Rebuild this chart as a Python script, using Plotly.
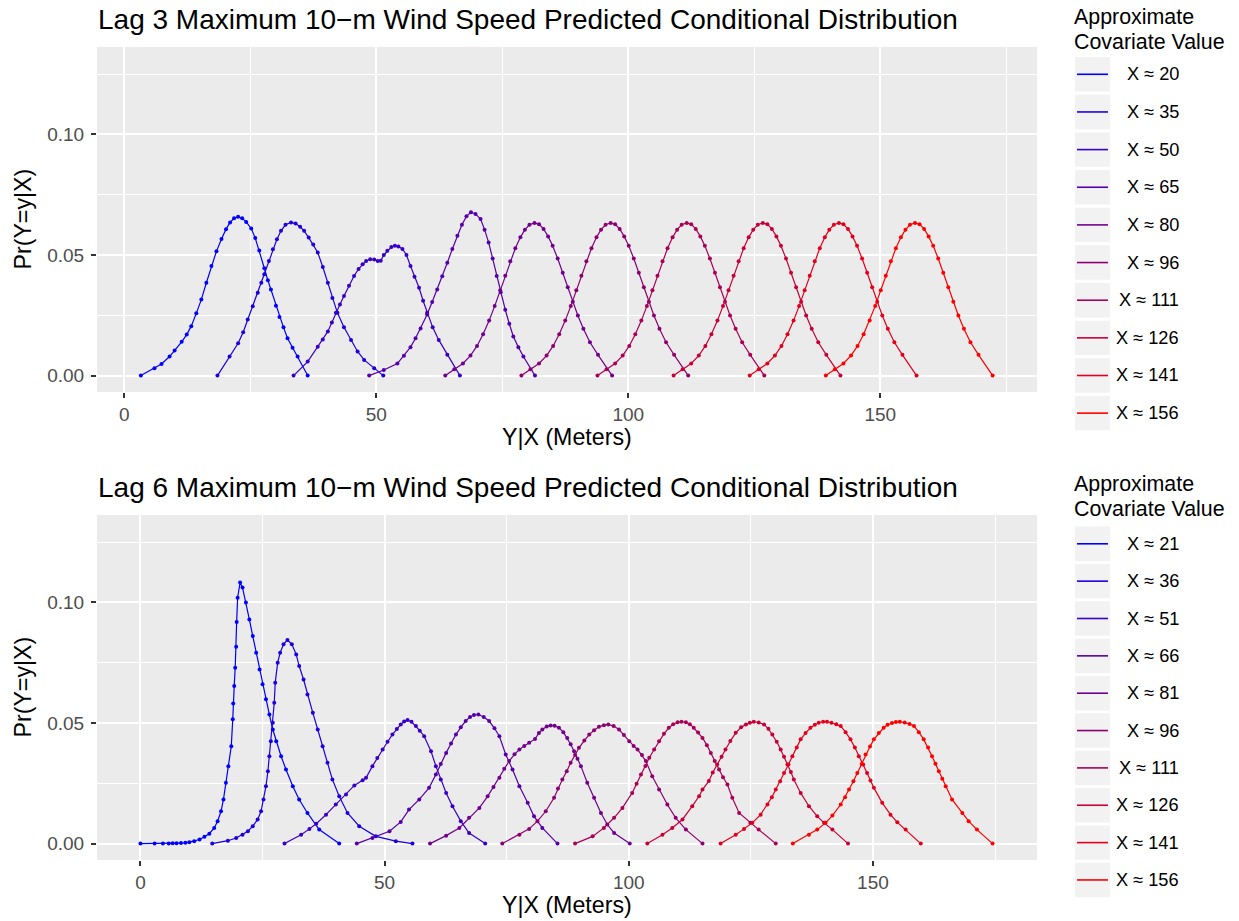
import plotly.graph_objects as go

W, H = 1239, 921
FONT = "Liberation Sans, Arial, Helvetica, sans-serif"

# ---------------- data ----------------
colors = ["#0000FF", "#1C00E2", "#3800C6", "#5500AA", "#71008D",
          "#8D0071", "#AA0055", "#C60038", "#E2001C", "#FF0000"]

lag3_labels = ["X \u2248 20", "X \u2248 35", "X \u2248 50", "X \u2248 65", "X \u2248 80",
               "X \u2248 96", "X \u2248 111", "X \u2248 126", "X \u2248 141", "X \u2248 156"]
lag6_labels = ["X \u2248 21", "X \u2248 36", "X \u2248 51", "X \u2248 66", "X \u2248 81",
               "X \u2248 96", "X \u2248 111", "X \u2248 126", "X \u2248 141", "X \u2248 156"]

# Lag 3 curves
t20_x = [3.3, 6.0, 7.4, 9.0, 10.0, 11.4, 12.4, 13.3, 14.3, 15.3, 16.3, 17.3, 18.3, 19.3, 20.2, 21.0, 21.8, 22.6,
         23.4, 24.2, 25.2, 26.0, 26.8, 27.8, 28.5, 29.1, 30.1, 30.8, 31.6, 32.4, 33.4, 34.4, 36.4]
t20_y = [0, 0.0030, 0.0048, 0.0079, 0.0104, 0.0140, 0.0170, 0.0205, 0.0258, 0.0315, 0.0385, 0.0454, 0.0515, 0.0566,
         0.0607, 0.0635, 0.0652, 0.0658, 0.0652, 0.0637, 0.0610, 0.0570, 0.0518, 0.0445, 0.0395, 0.0357, 0.0290,
         0.0243, 0.0200, 0.0155, 0.0115, 0.0079, 0]
t35_x = [18.5, 20.9, 22.6, 23.6, 24.5, 25.5, 26.5, 27.2, 27.8, 28.7, 29.5, 30.3, 31.1, 32.0, 33.1, 34.0, 34.9, 35.7,
         36.6, 37.5, 38.4, 39.4, 40.4, 41.3, 42.3, 43.6, 45.0, 46.3, 47.6, 49.6, 51.4]
t35_y = [0, 0.0079, 0.0134, 0.0180, 0.0232, 0.0287, 0.0343, 0.0385, 0.0420, 0.0475, 0.0524, 0.0565, 0.0600, 0.0625,
         0.0635, 0.0630, 0.0617, 0.0600, 0.0572, 0.0543, 0.0510, 0.0450, 0.0385, 0.0322, 0.0260, 0.0200, 0.0148,
         0.0100, 0.0065, 0.0030, 0]
t50_x = [33.6, 36.4, 38.4, 39.4, 40.4, 41.2, 42.0, 42.8, 43.6, 44.6, 45.6, 46.5, 47.3, 48.0, 48.8, 49.6, 50.3, 50.9,
         51.5, 52.2, 53.0, 53.7, 54.4, 55.2, 56.0, 56.8, 57.6, 58.5, 59.3, 60.1, 61.2, 62.4, 64.1, 66.6]
t50_y = [0, 0.0058, 0.0120, 0.0150, 0.0183, 0.0220, 0.0260, 0.0295, 0.0330, 0.0372, 0.0413, 0.0442, 0.0461, 0.0475,
         0.0482, 0.0481, 0.0475, 0.0476, 0.0500, 0.0517, 0.0533, 0.0538, 0.0535, 0.0525, 0.0500, 0.0454, 0.0410,
         0.0364, 0.0310, 0.0260, 0.0200, 0.0148, 0.0086, 0]
t65_x = [48.6, 51.5, 54.2, 55.5, 56.8, 57.8, 58.8, 60.1, 61.1, 62.1, 63.1, 64.1, 65.1, 66.1, 67.0, 67.9, 68.8, 69.7,
         70.7, 71.5, 72.3, 73.1, 73.9, 74.7, 75.6, 76.4, 77.2, 78.2, 79.2, 81.5]
t65_y = [0, 0.0023, 0.0050, 0.0082, 0.0118, 0.0155, 0.0195, 0.0253, 0.0305, 0.0357, 0.0412, 0.0468, 0.0525, 0.0580,
         0.0625, 0.0660, 0.0677, 0.0670, 0.0649, 0.0605, 0.0552, 0.0485, 0.0413, 0.0345, 0.0273, 0.0215, 0.0162,
         0.0118, 0.0079, 0]
t80_x = [63.7, 65.5, 67.2, 68.7, 70.0, 71.2, 72.4, 73.5, 74.6, 75.6, 76.6, 77.6, 78.6, 79.5, 80.4, 81.4, 82.3, 83.2,
         84.1, 85.0, 86.0, 87.0, 88.0, 89.0, 90.0, 91.1, 92.4, 94.0, 96.8]
t80_y = [0, 0.0026, 0.0050, 0.0083, 0.0123, 0.0171, 0.0228, 0.0288, 0.0354, 0.0414, 0.0474, 0.0528, 0.0573, 0.0605,
         0.0625, 0.0633, 0.0627, 0.0608, 0.0577, 0.0538, 0.0485, 0.0426, 0.0366, 0.0306, 0.0249, 0.0194, 0.0138,
         0.0086, 0]
t96_x = [78.8, 80.6, 82.3, 83.8, 85.1, 86.3, 87.5, 88.6, 89.7, 90.7, 91.7, 92.7, 93.7, 94.6, 95.5, 96.5, 97.4, 98.3,
         99.2, 100.1, 101.1, 102.1, 103.1, 104.1, 105.1, 106.2, 107.5, 109.1, 111.9]
t96_y = [0, 0.0026, 0.0050, 0.0083, 0.0123, 0.0171, 0.0228, 0.0288, 0.0354, 0.0414, 0.0474, 0.0528, 0.0573, 0.0605,
         0.0625, 0.0633, 0.0627, 0.0608, 0.0577, 0.0538, 0.0485, 0.0426, 0.0366, 0.0306, 0.0249, 0.0194, 0.0138,
         0.0086, 0]
t111_x = [93.9, 95.7, 97.4, 98.9, 100.2, 101.4, 102.6, 103.7, 104.8, 105.8, 106.8, 107.8, 108.8, 109.7, 110.6, 111.6,
          112.5, 113.4, 114.3, 115.2, 116.2, 117.2, 118.2, 119.2, 120.2, 121.3, 122.6, 124.2, 127.0]
t111_y = [0, 0.0026, 0.0050, 0.0083, 0.0123, 0.0171, 0.0228, 0.0288, 0.0354, 0.0414, 0.0474, 0.0528, 0.0573, 0.0605,
          0.0625, 0.0633, 0.0627, 0.0608, 0.0577, 0.0538, 0.0485, 0.0426, 0.0366, 0.0306, 0.0249, 0.0194, 0.0138,
          0.0086, 0]
t126_x = [109.0, 110.8, 112.5, 114.0, 115.3, 116.5, 117.7, 118.8, 119.9, 120.9, 121.9, 122.9, 123.9, 124.8, 125.7,
          126.7, 127.6, 128.5, 129.4, 130.3, 131.3, 132.3, 133.3, 134.3, 135.3, 136.4, 137.7, 139.3, 142.1]
t126_y = [0, 0.0026, 0.0050, 0.0083, 0.0123, 0.0171, 0.0228, 0.0288, 0.0354, 0.0414, 0.0474, 0.0528, 0.0573, 0.0605,
          0.0625, 0.0633, 0.0627, 0.0608, 0.0577, 0.0538, 0.0485, 0.0426, 0.0366, 0.0306, 0.0249, 0.0194, 0.0138,
          0.0086, 0]
t141_x = [124.1, 125.9, 127.6, 129.1, 130.4, 131.6, 132.8, 133.9, 135.0, 136.0, 137.0, 138.0, 139.0, 139.9, 140.8,
          141.8, 142.7, 143.6, 144.5, 145.4, 146.4, 147.4, 148.4, 149.4, 150.4, 151.5, 152.8, 154.4, 157.2]
t141_y = [0, 0.0026, 0.0050, 0.0083, 0.0123, 0.0171, 0.0228, 0.0288, 0.0354, 0.0414, 0.0474, 0.0528, 0.0573, 0.0605,
          0.0625, 0.0633, 0.0627, 0.0608, 0.0577, 0.0538, 0.0485, 0.0426, 0.0366, 0.0306, 0.0249, 0.0194, 0.0138,
          0.0086, 0]
t156_x = [139.2, 141.0, 142.7, 144.2, 145.5, 146.7, 147.9, 149.0, 150.1, 151.1, 152.1, 153.1, 154.1, 155.0, 155.9,
          156.9, 157.8, 158.7, 159.6, 160.5, 161.5, 162.5, 163.5, 164.5, 165.5, 166.6, 167.9, 169.5, 172.3]
t156_y = [0, 0.0026, 0.0050, 0.0083, 0.0123, 0.0171, 0.0228, 0.0288, 0.0354, 0.0414, 0.0474, 0.0528, 0.0573, 0.0605,
          0.0625, 0.0633, 0.0627, 0.0608, 0.0577, 0.0538, 0.0485, 0.0426, 0.0366, 0.0306, 0.0249, 0.0194, 0.0138,
          0.0086, 0]

# Lag 6 curves
b21_x = [0.0, 2.9, 4.6, 5.8, 6.6, 7.4, 8.3, 9.2, 10.0, 11.0, 12.1, 13.1, 14.1, 15.1, 15.8, 16.5, 17.0, 17.5, 18.0,
         18.6, 18.9, 19.0, 19.2, 19.4, 19.6, 19.7, 19.9, 20.4, 20.9, 21.6, 22.3, 23.0, 23.7, 24.4, 25.0, 25.7, 26.4,
         27.1, 27.8, 28.8, 29.8, 31.2, 32.5, 34.2, 36.6, 40.7]
b21_y = [0, 0, 0, 0, 0.0001, 0.0001, 0.0002, 0.0003, 0.0006, 0.0010, 0.0017, 0.0028, 0.0041, 0.0065, 0.0093, 0.0134,
         0.0183, 0.0252, 0.0321, 0.0404, 0.0515, 0.0581, 0.0653, 0.0729, 0.0816, 0.0918, 0.1019, 0.1082, 0.1061,
         0.0999, 0.0929, 0.0860, 0.0791, 0.0722, 0.0660, 0.0598, 0.0535, 0.0473, 0.0424, 0.0362, 0.0307, 0.0238,
         0.0183, 0.0127, 0.0058, 0]
b36_x = [14.7, 17.9, 19.6, 20.9, 22.0, 23.0, 24.0, 24.7, 25.2, 25.7, 26.1, 26.4, 26.7, 27.1, 27.4, 27.6, 28.1, 28.6,
         29.3, 30.1, 31.0, 31.9, 32.5, 33.4, 34.2, 35.3, 36.3, 37.3, 38.3, 39.3, 40.7, 42.4, 44.8, 48.2, 52.3, 55.7]
b36_y = [0, 0.0012, 0.0023, 0.0037, 0.0051, 0.0072, 0.0100, 0.0134, 0.0183, 0.0238, 0.0300, 0.0362, 0.0424, 0.0501,
         0.0584, 0.0667, 0.0750, 0.0791, 0.0826, 0.0844, 0.0826, 0.0784, 0.0736, 0.0680, 0.0618, 0.0542, 0.0473,
         0.0404, 0.0335, 0.0266, 0.0196, 0.0127, 0.0072, 0.0030, 0.0010, 0]
b51_x = [29.5, 32.9, 34.6, 36.0, 38.0, 40.0, 42.1, 43.8, 45.5, 46.2, 47.5, 48.5, 49.6, 50.6, 51.6, 52.5, 53.3, 54.0,
         54.7, 55.5, 56.4, 57.2, 58.1, 59.5, 60.5, 61.5, 62.6, 63.9, 65.6, 67.3, 70.6]
b51_y = [0, 0.0037, 0.0061, 0.0082, 0.0120, 0.0162, 0.0203, 0.0241, 0.0263, 0.0273, 0.0321, 0.0355, 0.0390, 0.0422,
         0.0452, 0.0475, 0.0494, 0.0506, 0.0512, 0.0505, 0.0487, 0.0468, 0.0445, 0.0383, 0.0321, 0.0266, 0.0210,
         0.0155, 0.0093, 0.0044, 0]
b66_x = [44.3, 47.5, 51.0, 53.3, 55.0, 57.1, 59.1, 60.5, 61.5, 62.6, 63.6, 64.6, 65.6, 66.6, 67.5, 68.3, 69.2, 70.3,
         71.4, 72.5, 73.5, 74.8, 76.2, 77.6, 79.3, 80.6, 82.3, 85.4]
b66_y = [0, 0.0023, 0.0051, 0.0090, 0.0141, 0.0183, 0.0231, 0.0286, 0.0330, 0.0376, 0.0415, 0.0452, 0.0482, 0.0508,
         0.0525, 0.0533, 0.0535, 0.0525, 0.0508, 0.0478, 0.0445, 0.0369, 0.0307, 0.0238, 0.0169, 0.0113, 0.0065, 0]
b81_x = [59.3, 62.6, 65.3, 67.3, 69.4, 71.1, 72.3, 73.5, 74.5, 75.5, 76.6, 77.6, 78.6, 79.6, 80.8, 81.6, 82.3, 83.2,
         84.0, 84.8, 85.7, 86.6, 87.4, 88.1, 88.8, 89.5, 90.2, 91.5, 92.9, 94.3, 95.6, 97.0, 100.2]
b81_y = [0, 0.0033, 0.0065, 0.0107, 0.0148, 0.0196, 0.0235, 0.0273, 0.0310, 0.0342, 0.0370, 0.0390, 0.0405, 0.0418,
         0.0434, 0.0458, 0.0473, 0.0485, 0.0490, 0.0488, 0.0480, 0.0462, 0.0438, 0.0412, 0.0383, 0.0352, 0.0321,
         0.0252, 0.0190, 0.0127, 0.0079, 0.0044, 0]
b96_x = [74.1, 77.6, 79.6, 81.3, 83.0, 84.7, 85.5, 86.4, 87.3, 88.1, 89.0, 89.8, 90.9, 91.9, 92.9, 93.9, 94.9, 95.8,
         96.9, 98.0, 99.0, 100.1, 101.0, 101.8, 102.7, 103.5, 104.8, 106.2, 107.9, 109.6, 111.7, 115.1]
b96_y = [0, 0.0037, 0.0061, 0.0093, 0.0134, 0.0190, 0.0228, 0.0266, 0.0300, 0.0335, 0.0367, 0.0397, 0.0427, 0.0452,
         0.0470, 0.0484, 0.0491, 0.0494, 0.0487, 0.0473, 0.0450, 0.0424, 0.0405, 0.0390, 0.0367, 0.0342, 0.0279,
         0.0224, 0.0162, 0.0107, 0.0058, 0]
b111_x = [89.0, 92.6, 94.9, 97.0, 98.7, 100.7, 101.6, 102.5, 103.4, 104.2, 105.2, 106.2, 107.2, 108.2, 109.1, 110.0,
          110.8, 111.7, 112.5, 113.3, 114.2, 115.1, 116.0, 116.8, 117.6, 118.5, 119.3, 120.2, 121.2, 122.6, 124.9,
          126.6, 130.1]
b111_y = [0, 0.0030, 0.0065, 0.0107, 0.0148, 0.0210, 0.0248, 0.0286, 0.0322, 0.0356, 0.0390, 0.0424, 0.0455, 0.0480,
          0.0495, 0.0503, 0.0505, 0.0503, 0.0495, 0.0480, 0.0460, 0.0438, 0.0408, 0.0376, 0.0342, 0.0307, 0.0275,
          0.0245, 0.0190, 0.0127, 0.0086, 0.0058, 0]
b126_x = [103.8, 106.9, 108.9, 111.0, 113.0, 114.4, 115.1, 116.4, 117.2, 118.1, 119.0, 119.8, 120.8, 121.9, 123.0,
          124.0, 124.8, 125.6, 126.6, 127.7, 128.6, 129.4, 130.3, 131.1, 131.8, 132.5, 133.2, 133.8, 135.2, 136.9,
          138.6, 140.0, 141.7, 144.9]
b126_y = [0, 0.0037, 0.0065, 0.0100, 0.0155, 0.0196, 0.0224, 0.0259, 0.0295, 0.0328, 0.0360, 0.0390, 0.0425, 0.0459,
          0.0482, 0.0494, 0.0501, 0.0505, 0.0502, 0.0494, 0.0476, 0.0452, 0.0422, 0.0390, 0.0360, 0.0328, 0.0297,
          0.0266, 0.0210, 0.0155, 0.0113, 0.0086, 0.0058, 0]
b141_x = [118.8, 121.9, 123.6, 125.3, 127.0, 128.4, 129.3, 130.1, 131.0, 131.8, 132.7, 133.5, 134.4, 135.2, 136.2,
          137.2, 138.1, 138.9, 139.8, 140.6, 141.5, 142.5, 143.4, 144.4, 145.4, 146.3, 147.1, 148.0, 148.8, 149.5,
          150.2, 151.9, 153.6, 155.0, 156.7, 159.8]
b141_y = [0, 0.0037, 0.0061, 0.0086, 0.0120, 0.0162, 0.0192, 0.0224, 0.0258, 0.0293, 0.0328, 0.0362, 0.0398, 0.0432,
          0.0458, 0.0480, 0.0493, 0.0501, 0.0505, 0.0505, 0.0501, 0.0495, 0.0487, 0.0462, 0.0432, 0.0398, 0.0362,
          0.0328, 0.0293, 0.0262, 0.0231, 0.0169, 0.0120, 0.0088, 0.0058, 0]
b156_x = [133.6, 136.9, 138.6, 140.3, 141.7, 143.4, 144.3, 145.1, 146.0, 146.8, 147.7, 148.5, 149.4, 150.2, 151.2,
          152.2, 153.0, 153.9, 154.7, 155.5, 156.5, 157.5, 158.4, 159.4, 160.4, 161.3, 162.1, 162.8, 163.5, 164.2,
          164.9, 166.2, 168.3, 169.6, 171.3, 174.5]
b156_y = [0, 0.0037, 0.0058, 0.0086, 0.0116, 0.0162, 0.0192, 0.0224, 0.0258, 0.0293, 0.0330, 0.0369, 0.0402, 0.0432,
          0.0458, 0.0480, 0.0493, 0.0500, 0.0504, 0.0505, 0.0502, 0.0496, 0.0487, 0.0462, 0.0432, 0.0398, 0.0362,
          0.0331, 0.0300, 0.0269, 0.0238, 0.0183, 0.0127, 0.0093, 0.0058, 0]

x_ticks = [0, 50, 100, 150]
x_minor = [25, 75, 125, 175]
y_ticks = [0, 0.05, 0.10]
y_ticktext = ["0.00", "0.05", "0.10"]
y_minor = [0.025, 0.075, 0.125]

lag3_series = [(t20_x, t20_y), (t35_x, t35_y), (t50_x, t50_y), (t65_x, t65_y), (t80_x, t80_y),
               (t96_x, t96_y), (t111_x, t111_y), (t126_x, t126_y), (t141_x, t141_y), (t156_x, t156_y)]
lag6_series = [(b21_x, b21_y), (b36_x, b36_y), (b51_x, b51_y), (b66_x, b66_y), (b81_x, b81_y),
               (b96_x, b96_y), (b111_x, b111_y), (b126_x, b126_y), (b141_x, b141_y), (b156_x, b156_y)]


# ---------------- figure ----------------
def px(x):
    """screen pixel x -> paper fraction"""
    return x / W


def py(y):
    """screen pixel y -> paper fraction"""
    return 1 - y / H


fig = go.Figure()
for (xs, ys), col, lab in zip(lag3_series, colors, lag3_labels):
    fig.add_trace(go.Scatter(x=xs, y=ys, mode="lines+markers", name=lab, showlegend=False,
                             line=dict(color=col, width=1.2), marker=dict(color=col, size=4),
                             xaxis="x", yaxis="y"))
for (xs, ys), col, lab in zip(lag6_series, colors, lag6_labels):
    fig.add_trace(go.Scatter(x=xs, y=ys, mode="lines+markers", name=lab, showlegend=False,
                             line=dict(color=col, width=1.2), marker=dict(color=col, size=4),
                             xaxis="x2", yaxis="y2"))

PLOT_L, PLOT_R = 97, 1037
P1_T, P1_B = 47, 392
P2_T, P2_B = 515, 860
TICK_FONT = dict(size=19, color="#4D4D4D", family=FONT)

common_x = dict(tickmode="array", tickvals=x_ticks, ticks="outside", ticklen=5, tickwidth=2,
                tickcolor="#333333", tickfont=TICK_FONT,
                showgrid=True, gridcolor="white", gridwidth=2, zeroline=False, showline=False,
                minor=dict(tickmode="array", tickvals=x_minor, showgrid=True, gridcolor="white", gridwidth=1),
                fixedrange=True)
common_y = dict(tickmode="array", tickvals=y_ticks, ticktext=y_ticktext, ticks="outside", ticklen=5,
                tickwidth=2, tickcolor="#333333", tickfont=TICK_FONT, ticklabelstandoff=3,
                showgrid=True, gridcolor="white", gridwidth=2, zeroline=False, showline=False,
                minor=dict(tickmode="array", tickvals=y_minor, showgrid=True, gridcolor="white", gridwidth=1),
                range=[-0.0068, 0.1362], fixedrange=True)

fig.update_layout(
    width=W, height=H,
    margin=dict(l=0, r=0, t=0, b=0),
    paper_bgcolor="white", plot_bgcolor="#EBEBEB",
    font=dict(family=FONT, color="black"),
    showlegend=False,
    hovermode=False,
    xaxis=dict(domain=[px(PLOT_L), px(PLOT_R)], anchor="y", range=[-5.4, 181.1], **common_x),
    yaxis=dict(domain=[py(P1_B), py(P1_T)], anchor="x", **common_y),
    xaxis2=dict(domain=[px(PLOT_L), px(PLOT_R)], anchor="y2", range=[-8.9, 183.6], **common_x),
    yaxis2=dict(domain=[py(P2_B), py(P2_T)], anchor="x2", **common_y),
)

ann = []
shapes = []


def text(t, x, y, size, xanchor="left", angle=0):
    ann.append(dict(text=t, x=px(x), y=py(y), xref="paper", yref="paper", xanchor=xanchor,
                    yanchor="middle", textangle=angle, showarrow=False,
                    font=dict(size=size, color="black", family=FONT)))


# titles
text("Lag 3 Maximum 10\u2212m Wind Speed Predicted Conditional Distribution", PLOT_L - 1, 19, 28)
text("Lag 6 Maximum 10\u2212m Wind Speed Predicted Conditional Distribution", PLOT_L - 1, 487, 28)
# axis titles
for yy in (437, 905):
    text("Y|X (Meters)", (PLOT_L + PLOT_R) / 2, yy, 23.2, xanchor="center")
for yy in ((P1_T + P1_B) / 2, (P2_T + P2_B) / 2):
    text("Pr(Y=y|X)", 22, yy, 23.2, xanchor="center", angle=-90)


# legends
def add_legend(title_y1, title_y2, first_c, pitch, labels):
    text("Approximate", 1072, title_y1, 21.4)
    text("Covariate Value", 1072, title_y2, 21.4)
    for i, (lab, col) in enumerate(zip(labels, colors)):
        c = first_c + i * pitch
        shapes.append(dict(type="rect", xref="paper", yref="paper", x0=px(1075), x1=px(1110),
                           y0=py(c + 17.2), y1=py(c - 17.2), fillcolor="#F2F2F2", line=dict(width=0),
                           layer="below"))
        shapes.append(dict(type="line", xref="paper", yref="paper", x0=px(1077), x1=px(1108),
                           y0=py(c), y1=py(c), line=dict(color=col, width=1.6)))
        text(lab, 1181, c, 18.2, xanchor="right")


add_legend(16.5, 41.5, 74.3, 37.65, lag3_labels)
add_legend(483.5, 508.5, 543.8, 37.35, lag6_labels)

fig.update_layout(annotations=ann, shapes=shapes)
# remove the browser's default 8px page margin so the figure fills the window exactly
fig.write_html("out.html", config={"displayModeBar": False, "staticPlot": True},
               post_script="document.body.style.margin='0';")
